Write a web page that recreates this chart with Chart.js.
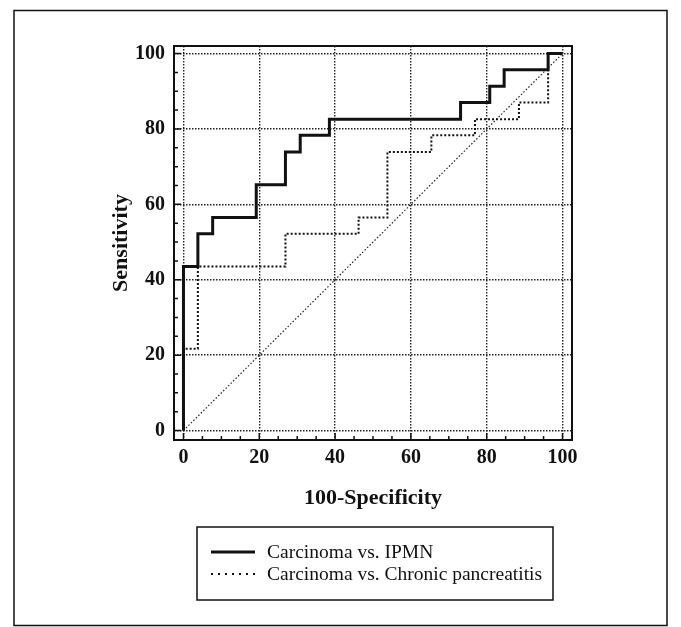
<!DOCTYPE html>
<html>
<head>
<meta charset="utf-8">
<script src="https://cdn.jsdelivr.net/npm/chart.js@4.4.1/dist/chart.umd.min.js"></script>
<style>
  html, body { margin: 0; padding: 0; background: #fff; }
  #wrap { width: 681px; height: 627px; }
</style>
</head>
<body>
<div id="wrap"><canvas id="roc" width="681" height="627"></canvas></div>
<script>
'use strict';

// corners of the ROC steps (100-Specificity, Sensitivity)
const ipmnX = [0, 0, 3.8, 7.7, 19.2, 26.9, 30.8, 38.5, 73.1, 80.8, 84.6, 96.2, 100];
const ipmnY = [0, 43.5, 52.2, 56.5, 65.2, 73.9, 78.3, 82.6, 87.0, 91.3, 95.7, 100, 100];
const chronicX = [0, 0, 3.8, 26.9, 46.2, 53.8, 65.4, 76.9, 88.5, 96.2, 100];
const chronicY = [0, 21.7, 43.5, 52.2, 56.5, 73.9, 78.3, 82.6, 87.0, 100, 100];
const chanceLine = [0, 100];
const tickValues = [0, 20, 40, 60, 80, 100];
const seriesNames = ['Carcinoma vs. IPMN', 'Carcinoma vs. Chronic pancreatitis'];

const serif = 'Liberation Serif, Times New Roman, serif';
const ink = '#111';

function toPoints(xs, ys) {
  return xs.map((x, i) => ({ x: x, y: ys[i] }));
}

// white page, outer box, plot frame, inward ticks, boxed legend
const paperPlugin = {
  id: 'paper',
  beforeDraw(chart) {
    const ctx = chart.ctx;
    ctx.save();
    ctx.fillStyle = '#fff';
    ctx.fillRect(0, 0, chart.width, chart.height);
    ctx.strokeStyle = ink;
    ctx.lineWidth = 1.5;
    ctx.strokeRect(14, 10.5, 653, 615);
    ctx.restore();
  },
  afterDatasetsDraw(chart) {
    const ctx = chart.ctx;
    const a = chart.chartArea;
    const xs = chart.scales.x, ys = chart.scales.y;
    ctx.save();
    ctx.strokeStyle = ink;
    ctx.lineWidth = 2;
    ctx.setLineDash([]);
    ctx.strokeRect(a.left, a.top, a.right - a.left, a.bottom - a.top);
    ctx.lineWidth = 1.5;
    ctx.beginPath();
    for (let v = 0; v <= 100; v += 5) {
      const len = v % 20 === 0 ? 7 : 4;
      const px = xs.getPixelForValue(v);
      ctx.moveTo(px, a.bottom);
      ctx.lineTo(px, a.bottom - len);
      const py = ys.getPixelForValue(v);
      ctx.moveTo(a.left, py);
      ctx.lineTo(a.left + len, py);
    }
    ctx.stroke();
    ctx.restore();
  },
  afterDraw(chart) {
    const ctx = chart.ctx;
    const a = chart.chartArea;
    const cx = (a.left + a.right) / 2;
    const left = cx - 176, top = a.bottom + 87, w = 356, h = 73;
    ctx.save();
    ctx.strokeStyle = ink;
    ctx.lineWidth = 1.5;
    ctx.setLineDash([]);
    ctx.strokeRect(left, top, w, h);
    ctx.font = '19.5px ' + serif;
    ctx.fillStyle = ink;
    ctx.textBaseline = 'middle';
    chart.data.datasets.slice(0, 2).forEach((ds, i) => {
      const y = top + 25 + i * 22;
      ctx.beginPath();
      ctx.lineWidth = ds.borderWidth;
      // the legend's dotted sample is drawn with wider spacing than the curve
      ctx.setLineDash(ds.borderDash ? [2, 5] : []);
      ctx.moveTo(left + 14, y);
      ctx.lineTo(left + 58, y);
      ctx.stroke();
      ctx.fillText(ds.label, left + 70, y + 1);
    });
    ctx.restore();
  }
};

const tickFont = { family: serif, size: 20, weight: 'bold' };
const titleFont = { family: serif, size: 22, weight: 'bold' };

new Chart(document.getElementById('roc'), {
  type: 'line',
  data: {
    datasets: [
      {
        label: seriesNames[0],
        data: toPoints(ipmnX, ipmnY),
        borderColor: ink,
        borderWidth: 3,
        stepped: true,
        pointRadius: 0,
        fill: false
      },
      {
        label: seriesNames[1],
        data: toPoints(chronicX, chronicY),
        borderColor: ink,
        borderWidth: 2,
        borderDash: [2, 2],
        stepped: true,
        pointRadius: 0,
        fill: false
      },
      {
        label: 'reference',
        data: toPoints(chanceLine, chanceLine),
        borderColor: '#222',
        borderWidth: 1.2,
        borderDash: [1.5, 2],
        pointRadius: 0,
        fill: false
      }
    ]
  },
  options: {
    responsive: false,
    animation: false,
    layout: { padding: { left: 108, top: 46, right: 109, bottom: 115 } },
    scales: {
      x: {
        type: 'linear',
        min: -2.5,
        max: 102.5,
        afterBuildTicks: s => { s.ticks = tickValues.map(v => ({ value: v })); },
        afterFit: s => { s.height = 72; },
        grid: { color: '#222', lineWidth: 1.4, drawTicks: false, borderDash: [1.5, 1.5] },
        border: { display: false, dash: [1.5, 1.5] },
        ticks: { padding: 6, color: ink, font: tickFont },
        title: { display: true, text: '100-Specificity', color: ink, padding: 0, font: titleFont }
      },
      y: {
        type: 'linear',
        min: -2.5,
        max: 102,
        afterBuildTicks: s => { s.ticks = tickValues.map(v => ({ value: v })); },
        afterFit: s => { s.width = 66; },
        grid: { color: '#222', lineWidth: 1.4, drawTicks: false, borderDash: [1.5, 1.5] },
        border: { display: false, dash: [1.5, 1.5] },
        ticks: { padding: 9, color: ink, font: tickFont },
        title: { display: true, text: 'Sensitivity', color: ink, padding: 0, font: titleFont }
      }
    },
    plugins: {
      legend: { display: false },
      tooltip: { enabled: false }
    }
  },
  plugins: [paperPlugin]
});
</script>
</body>
</html>
